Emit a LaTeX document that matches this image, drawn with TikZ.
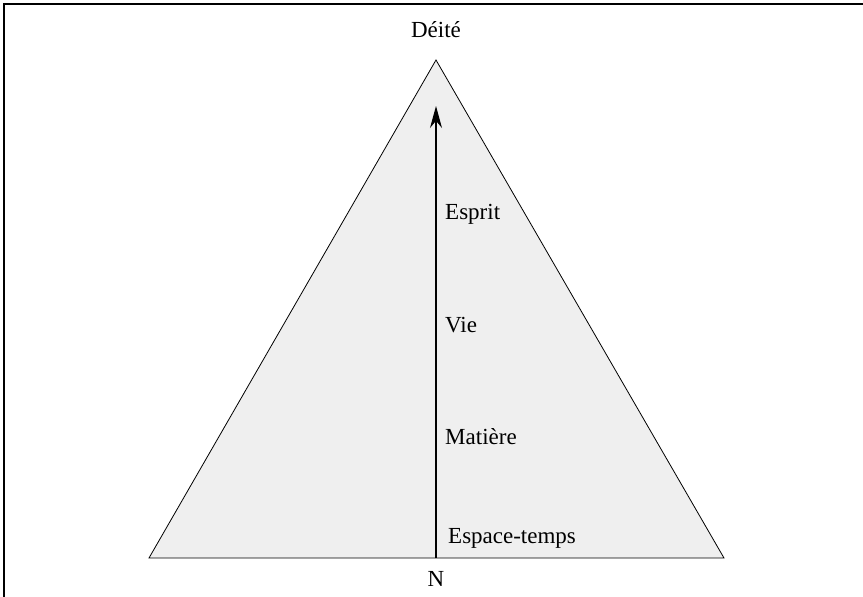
\documentclass[tikz,border=0pt]{standalone}
\usepackage{fontspec}
\setmainfont{Liberation Serif}
\usetikzlibrary{arrows.meta}

\begin{document}
\begin{tikzpicture}[x=1pt,y=-1pt]
\tikzstyle{every node}+=[inner sep=0pt, font=\fontsize{23}{27}\selectfont]
\tikzstyle{level}=[anchor=west]
\useasboundingbox (0,0) rectangle (863,597);
\draw [black, line width=2] (4,597) -- (4,4) -- (863,4);
\coordinate (top) at (436,60);
\coordinate (left) at (149,558);
\coordinate (right) at (724,558);
\draw [black, fill={rgb,255:red,239;green,239;blue,239}, line width=0.8] (top) -- (left) -- (right) -- cycle;
\coordinate (base) at (436,558);
\coordinate (tip) at (436,106);
\draw [black, line width=1.4, -{Stealth[length=22, width=12]}] (base) -- (tip);
\node (deite) at (436,30) {Déité};
\node (n) at (436,579) {N};
\node [level] (esprit) at (445,214) {Esprit};
\node [level] (vie) at (445,325) {Vie};
\node [level] (matiere) at (445,437) {Matière};
\node [level] (espace) at (448,538) {Espace-temps};
\end{tikzpicture}
\end{document}
